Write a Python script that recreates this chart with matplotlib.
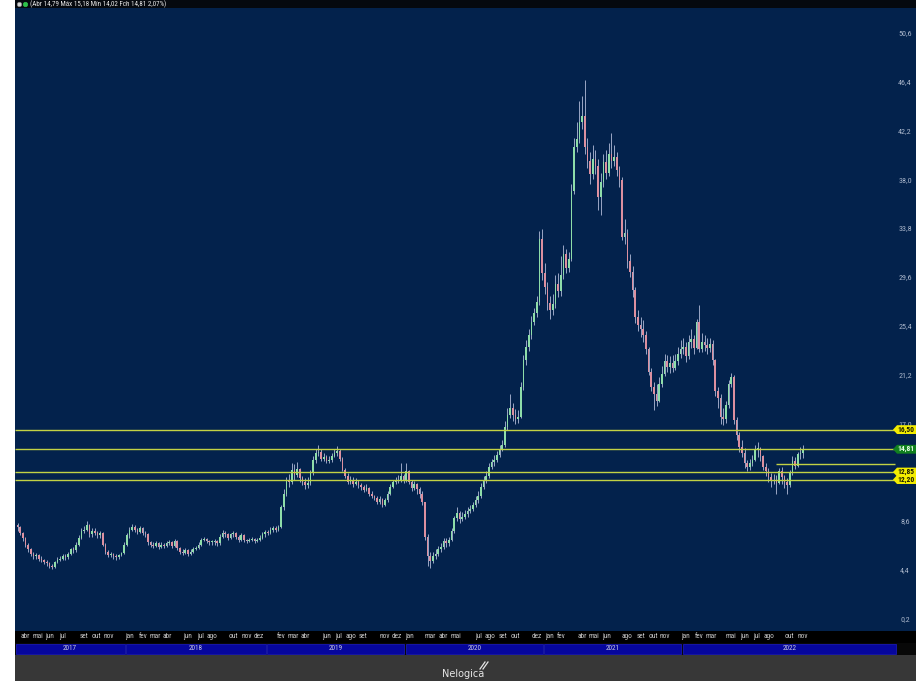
import matplotlib
matplotlib.use("Agg")
import matplotlib.pyplot as plt
from matplotlib.patches import Rectangle, Polygon
from matplotlib import font_manager
import matplotlib.transforms as mtransforms
import numpy as np
import pandas as pd

# weekly candles, first week 20/03/2017, last week 14/11/2022
first_week = "2017-03-20"
first_open = 8.3

close = [
    # 2017
    8.1, 7.6, 7.2, 6.6, 6.2, 5.8, 5.6, 5.7, 5.4, 5.3,
    5.1, 5.0, 4.8, 4.7, 5.1, 5.3, 5.4, 5.6, 5.5, 5.8,
    6.2, 6.1, 6.6, 7.2, 7.8, 7.9, 8.3, 7.5, 7.8, 7.6,
    7.4, 7.6, 6.6, 6.0, 5.7, 5.8, 5.6, 5.5, 5.7, 5.9,
    6.6,
    # 2018
    7.4, 7.9, 8.1, 7.9, 7.7, 8.0, 7.6, 7.5, 6.8, 6.6,
    6.5, 6.7, 6.4, 6.6, 6.5, 6.7, 6.8, 6.5, 6.9, 6.3,
    6.0, 5.9, 6.1, 5.8, 6.0, 6.2, 6.3, 6.6, 7.0, 7.1,
    6.9, 6.8, 6.8, 6.9, 6.7, 7.3, 7.6, 7.5, 7.2, 7.5,
    7.6, 7.3, 7.0, 7.4, 7.0, 6.9, 7.0, 7.1, 6.9, 7.0,
    7.2, 7.5,
    # 2019
    7.7, 7.6, 7.9, 8.0, 7.9, 8.1, 9.8, 11.0, 12.1, 12.0,
    13.0, 12.6, 13.1, 12.3, 12.0, 11.7, 11.9, 12.8, 13.9, 14.5,
    14.6, 14.0, 14.1, 13.8, 13.9, 14.2, 14.5, 14.7, 14.0, 13.0,
    12.5, 12.0, 12.2, 11.8, 12.0, 11.7, 11.6, 11.3, 11.5, 11.0,
    10.8, 10.6, 10.3, 10.5, 10.0, 10.4, 11.0, 11.6, 12.0, 12.1,
    12.2, 12.5,
    # 2020
    12.2, 12.9, 12.0, 11.5, 11.8, 11.4, 11.0, 10.3, 7.3, 5.6,
    5.2, 5.6, 5.8, 6.2, 6.4, 6.9, 6.7, 7.0, 7.8, 8.9,
    9.3, 8.8, 9.0, 9.2, 9.5, 9.7, 10.0, 10.4, 10.8, 11.6,
    12.2, 12.5, 13.3, 13.7, 13.9, 14.3, 14.8, 15.2, 16.7, 17.8,
    18.4, 17.8, 17.4, 17.6, 20.2, 22.5, 23.6, 24.6, 25.8, 26.5,
    27.5, 32.9,
    # 2021
    30.0, 28.8, 27.4, 26.8, 27.3, 29.0, 28.4, 29.8, 31.6, 30.4,
    31.2, 37.0, 40.8, 41.5, 43.0, 43.5, 40.8, 39.6, 38.5, 39.8,
    39.2, 36.5, 37.8, 39.5, 38.6, 40.2, 39.6, 40.0, 38.8, 38.0,
    33.1, 33.4, 31.0, 30.1, 28.5, 26.2, 25.5, 25.2, 24.6, 23.4,
    21.5, 20.2, 19.6, 19.0, 20.4, 21.3, 22.4, 21.9, 22.2, 21.8,
    22.4, 23.0,
    # 2022
    23.4, 23.6, 22.8, 24.0, 24.3, 23.5, 25.8, 23.4, 24.0, 23.8,
    23.5, 23.9, 22.5, 19.8, 19.2, 17.6, 17.4, 18.6, 20.4, 21.0,
    17.3, 16.0, 15.0, 14.5, 13.6, 13.3, 13.6, 13.9, 14.8, 14.9,
    14.2, 13.3, 12.9, 12.4, 12.1, 12.2, 11.9, 12.9, 12.4, 12.0,
    11.7, 12.8, 13.8, 13.4, 14.4, 14.5, 14.81,
]

high = [
    8.5, 8.2, 7.7, 7.3, 6.7, 6.3, 6.0, 5.9, 5.8, 5.6,
    5.4, 5.3, 5.1, 4.9, 5.2, 5.5, 5.6, 5.8, 5.8, 6.0,
    6.3, 6.4, 6.8, 7.4, 8.0, 8.2, 8.6, 8.4, 8.0, 8.0,
    7.8, 7.8, 7.7, 6.7, 6.1, 6.0, 5.9, 5.8, 5.8, 6.0,
    6.8,
    7.6, 8.1, 8.4, 8.3, 8.0, 8.2, 8.1, 7.8, 7.6, 6.9,
    6.8, 6.9, 6.8, 6.8, 6.7, 6.9, 7.0, 6.9, 7.1, 7.0,
    6.4, 6.2, 6.3, 6.2, 6.2, 6.4, 6.5, 6.8, 7.2, 7.3,
    7.2, 7.0, 7.0, 7.1, 7.0, 7.5, 7.9, 7.8, 7.6, 7.6,
    7.8, 7.7, 7.4, 7.6, 7.5, 7.1, 7.2, 7.3, 7.2, 7.2,
    7.4, 7.7,
    7.9, 7.9, 8.1, 8.2, 8.2, 8.3, 10.0, 11.4, 12.4, 12.7,
    13.6, 13.5, 13.7, 13.2, 12.5, 12.3, 12.4, 13.0, 14.2, 14.8,
    15.2, 14.8, 14.5, 14.3, 14.2, 14.5, 14.8, 15.1, 14.8, 14.1,
    13.2, 12.8, 12.5, 12.4, 12.3, 12.2, 11.9, 11.7, 11.8, 11.6,
    11.2, 10.9, 10.8, 10.8, 10.6, 10.6, 11.2, 11.8, 12.2, 12.4,
    12.6, 13.6,
    12.7, 13.6, 13.0, 12.2, 12.1, 11.9, 11.6, 11.2, 9.2, 7.5,
    6.0, 6.0, 6.2, 6.5, 6.7, 7.2, 7.2, 7.3, 8.0, 9.1,
    9.8, 9.5, 9.4, 9.6, 9.8, 10.0, 10.3, 10.8, 11.2, 11.9,
    12.5, 12.9, 13.6, 14.0, 14.3, 14.7, 15.2, 15.6, 17.2, 18.4,
    19.6, 18.8, 18.3, 18.2, 20.6, 22.9, 24.2, 25.2, 26.3, 27.0,
    28.0, 33.6,
    33.8, 30.8, 29.2, 28.0, 28.2, 29.8, 30.0, 31.4, 32.4, 32.0,
    31.8, 37.6, 41.6, 43.0, 44.8, 45.2, 46.6, 41.6, 40.4, 41.0,
    40.6, 39.8, 38.6, 40.2, 40.6, 41.2, 42.0, 41.0, 40.4, 39.2,
    38.2, 34.6, 33.8, 31.6, 30.6, 28.8, 26.8, 26.2, 25.9, 25.0,
    23.6, 21.8, 20.6, 20.4, 21.0, 22.0, 23.0, 22.9, 22.8, 22.9,
    23.0, 23.6,
    24.2, 24.4, 24.0, 24.6, 25.2, 24.6, 26.0, 27.2, 24.8, 24.6,
    24.4, 24.4, 24.2, 22.6, 20.2, 19.6, 18.4, 19.0, 20.8, 21.4,
    21.2, 17.6, 16.3, 15.6, 14.9, 13.9, 14.0, 14.3, 15.2, 15.4,
    15.0, 14.3, 13.6, 13.2, 12.8, 12.7, 12.6, 13.2, 13.3, 12.6,
    12.3, 13.0, 14.2, 14.1, 14.6, 15.0, 15.18,
]

low = [
    7.8, 7.4, 6.9, 6.4, 6.0, 5.6, 5.4, 5.4, 5.2, 5.1,
    4.9, 4.8, 4.6, 4.5, 4.6, 5.0, 5.2, 5.3, 5.3, 5.4,
    5.7, 5.9, 6.0, 6.5, 7.1, 7.6, 7.8, 7.3, 7.3, 7.4,
    7.2, 7.2, 6.5, 5.8, 5.5, 5.5, 5.4, 5.3, 5.4, 5.6,
    5.8,
    6.5, 7.2, 7.8, 7.7, 7.5, 7.6, 7.4, 7.3, 6.6, 6.4,
    6.3, 6.4, 6.2, 6.3, 6.3, 6.4, 6.6, 6.3, 6.4, 6.1,
    5.8, 5.7, 5.8, 5.6, 5.7, 5.9, 6.1, 6.2, 6.5, 6.9,
    6.7, 6.6, 6.6, 6.6, 6.5, 6.6, 7.2, 7.3, 7.0, 7.1,
    7.3, 7.1, 6.8, 6.9, 6.8, 6.7, 6.8, 6.9, 6.7, 6.8,
    6.9, 7.1,
    7.3, 7.4, 7.5, 7.7, 7.7, 7.8, 8.0, 9.6, 10.8, 11.6,
    11.8, 12.2, 12.4, 12.0, 11.7, 11.4, 11.5, 11.7, 12.6, 13.6,
    14.2, 13.8, 13.8, 13.6, 13.6, 13.7, 14.1, 14.2, 13.8, 12.9,
    12.3, 11.8, 11.8, 11.6, 11.7, 11.5, 11.3, 11.1, 11.2, 10.8,
    10.6, 10.4, 10.1, 10.1, 9.8, 9.9, 10.3, 10.9, 11.5, 11.8,
    11.9, 12.0,
    11.9, 12.0, 11.8, 11.2, 11.3, 11.0, 10.6, 10.0, 7.0, 4.8,
    4.6, 5.0, 5.4, 5.6, 6.0, 6.2, 6.4, 6.5, 6.9, 7.6,
    8.6, 8.5, 8.6, 8.8, 9.0, 9.3, 9.5, 9.8, 10.2, 10.6,
    11.4, 11.9, 12.3, 13.1, 13.4, 13.7, 14.1, 14.7, 15.0, 16.5,
    17.5, 17.2, 17.0, 17.1, 17.5, 19.9, 22.1, 23.3, 24.3, 25.5,
    26.2, 27.2,
    29.4, 28.2, 26.8, 26.0, 26.4, 27.0, 27.9, 28.0, 29.5, 30.0,
    30.1, 31.0, 36.8, 40.4, 41.2, 42.4, 40.2, 39.0, 37.6, 38.1,
    38.5, 35.4, 35.0, 37.4, 38.1, 38.3, 39.0, 39.2, 38.3, 37.4,
    32.8, 32.5, 30.4, 29.6, 27.9, 25.7, 25.0, 24.5, 24.0, 23.0,
    21.2, 19.8, 18.2, 18.5, 18.9, 20.2, 21.1, 21.5, 21.4, 21.5,
    21.6, 22.1,
    22.7, 23.0, 22.3, 22.6, 23.5, 23.0, 23.4, 23.2, 23.2, 23.3,
    23.0, 23.2, 22.1, 19.4, 18.4, 17.0, 16.9, 17.1, 18.4, 20.2,
    17.0, 15.6, 14.6, 14.1, 13.2, 12.9, 13.0, 13.4, 13.8, 14.1,
    13.8, 13.0, 12.5, 12.0, 11.6, 11.8, 11.0, 11.8, 11.8, 11.5,
    11.0, 11.6, 12.6, 13.1, 13.3, 14.0, 14.02,
]

# horizontal lines drawn by the user
levels = [16.50, 14.81, 12.85, 12.20]
level_labels = ["16,50", "14,81", "12,85", "12,20"]
level_face = ["#f3ec00", "#11801f", "#f3ec00", "#f3ec00"]
level_text = ["#1a1a00", "#e6ffe6", "#1a1a00", "#1a1a00"]
short_level = 13.53
short_level_start = "2022-09-05"

yticks = [0.2, 4.4, 8.6, 12.8, 17.0, 21.2, 25.4, 29.6, 33.8, 38.0, 42.2, 46.4, 50.6]

month_names = ["jan", "fev", "mar", "abr", "mai", "jun", "jul", "ago", "set", "out", "nov", "dez"]
month_ticks = {
    2017: ["abr", "mai", "jun", "jul", "set", "out", "nov"],
    2018: ["jan", "fev", "mar", "abr", "jun", "jul", "ago", "out", "nov", "dez"],
    2019: ["fev", "mar", "abr", "jun", "jul", "ago", "set", "nov", "dez"],
    2020: ["jan", "mar", "abr", "mai", "jul", "ago", "set", "out", "dez"],
    2021: ["jan", "fev", "abr", "mai", "jun", "ago", "set", "out", "nov"],
    2022: ["jan", "fev", "mar", "mai", "jun", "jul", "ago", "out", "nov"],
}
years = [2017, 2018, 2019, 2020, 2021, 2022]

header = "(Abr 14,79 Máx 15,18 Mín 14,02 Fch 14,81 2,07%)"

navy = "#03224c"
up_col = "#8edda9"
dn_col = "#dc90a0"
wick_col = "#b2bcd9"
line_col = "#c2d244"

# narrow font if there is one, like the platform's labels
names = {f.name for f in font_manager.fontManager.ttflist}
font = "DejaVu Sans"
for cand in ["Liberation Sans Narrow", "Roboto Condensed", "Open Sans Condensed"]:
    if cand in names:
        font = cand
        break
plt.rcParams["font.family"] = [font, "DejaVu Sans"]
stretch = "normal"
if font == "DejaVu Sans" and any(f.name == "DejaVu Sans" and f.stretch == "condensed"
                                 for f in font_manager.fontManager.ttflist):
    stretch = "condensed"

n = len(close)
dates = pd.date_range(first_week, periods=n, freq="W-MON")
x = np.arange(n)
c = np.array(close)
o = np.array([first_open] + close[:-1])
h = np.maximum(np.array(high), np.maximum(o, c))
l = np.minimum(np.array(low), np.minimum(o, c))

W, H = 916, 681
fig = plt.figure(figsize=(W / 100, H / 100), dpi=100, facecolor="white")


def box(x0, y0, x1, y1):
    return [x0 / W, 1 - y1 / H, (x1 - x0) / W, (y1 - y0) / H]


def clean(a, fc):
    a.set_facecolor(fc)
    a.set_xticks([])
    a.set_yticks([])
    for s in a.spines.values():
        s.set_visible(False)


xmin, xmax = -0.94, 337.4
ymin, ymax = -0.83, 52.78

# main chart
ax = fig.add_axes(box(15, 8, 916, 631))
clean(ax, navy)
ax.set_xlim(xmin, xmax)
ax.set_ylim(ymin, ymax)

up = c >= o
cols = np.where(up, up_col, dn_col)
ax.vlines(x, l, h, color=wick_col, lw=0.6, zorder=2)
body = np.maximum(np.abs(c - o), 0.08)
ax.bar(x, body, bottom=np.minimum(o, c), width=0.62, color=cols, zorder=3, linewidth=0)

x_end = 329.5
for lv in levels:
    ax.hlines(lv, xmin, x_end, color=line_col, lw=1.0, zorder=4)
s_idx = dates.get_loc(pd.Timestamp(short_level_start))
ax.hlines(short_level, s_idx, x_end, color=line_col, lw=1.0, zorder=4)

trans = mtransforms.blended_transform_factory(ax.transAxes, ax.transData)
for t in yticks:
    # the 12,8 tick sits under the 12,85 marker
    if min(abs(t - lv) for lv in levels) < 0.1:
        continue
    ax.text(0.9878, t, f"{t:.1f}".replace(".", ","), transform=trans, ha="center",
            va="center", fontsize=5.8, color="#a9b5ca", zorder=5, fontstretch=stretch)

hh = 4.4 * (ymax - ymin) / 623
tip, sh = (893 - 15) / 901, (897 - 15) / 901
for lv, lab, fc, tc in zip(levels, level_labels, level_face, level_text):
    poly = Polygon([(tip, lv), (sh, lv - hh), (1.0, lv - hh), (1.0, lv + hh), (sh, lv + hh)],
                   closed=True, transform=trans, facecolor=fc, edgecolor="none", zorder=6)
    ax.add_patch(poly)
    ax.text(sh + 0.0005, lv, lab, transform=trans, ha="left", va="center", fontsize=5.4,
            color=tc, fontweight="bold", zorder=7, fontstretch=stretch)

# header strip
axh = fig.add_axes(box(15, 0, 916, 8))
clean(axh, "#05090f")
axh.set_xlim(0, 901)
axh.set_ylim(0, 1)
axh.plot([4], [0.5], "o", ms=3.2, mfc="#d8d8d8", mec="#888888", mew=0.5)
axh.plot([10], [0.5], "o", ms=3.2, mfc="#2ec24a", mec="#2ec24a", mew=0.5)
axh.text(15, 0.5, header, ha="left", va="center", fontsize=5.0, color="#e8e8e8",
         fontstretch=stretch)

# months strip, labels pushed right when they would touch the previous one
axm = fig.add_axes(box(15, 631, 916, 643))
clean(axm, "#000000")
axm.set_xlim(xmin, xmax)
axm.set_ylim(0, 1)
last = -10
for yr in years:
    for m in month_ticks[yr]:
        mi = month_names.index(m) + 1
        idx = np.where((dates.year == yr) & (dates.month == mi))[0][0] + 1.0
        idx = max(idx, last + 4.6)
        last = idx
        axm.text(idx, 0.5, m, ha="center", va="center", fontsize=5.2, color="#cccccc",
                 fontstretch=stretch)

# years strip
axy = fig.add_axes(box(15, 643, 916, 655))
clean(axy, "#080808")
axy.set_xlim(xmin, xmax)
axy.set_ylim(0, 1)
for k, yr in enumerate(years):
    start = xmin if k == 0 else np.where(dates.year == yr)[0][0] - 0.5
    end = np.where(dates.year == yr + 1)[0][0] - 0.5 if yr < years[-1] else 330.3
    axy.add_patch(Rectangle((start + 0.25, 0.08), end - start - 0.5, 0.84,
                            facecolor="#06069c", edgecolor="#1c1cc4", lw=0.5))
    axy.text((start + end) / 2, 0.5, str(yr), ha="center", va="center",
             fontsize=5.2, color="#c8c8e0", fontstretch=stretch)

# footer
axf = fig.add_axes(box(15, 655, 916, 681))
clean(axf, "#373737")
axf.set_xlim(0, 901)
axf.set_ylim(0, 26)
axf.text(448, 7, "Nelogica", ha="center", va="center", fontsize=7, color="#e6e6e6",
         family="DejaVu Sans")
axf.plot([465, 470], [12, 19], color="#e6e6e6", lw=0.9)
axf.plot([468, 473], [12, 19], color="#e6e6e6", lw=0.9)

fig.savefig("out.png", dpi=100, facecolor=fig.get_facecolor())
